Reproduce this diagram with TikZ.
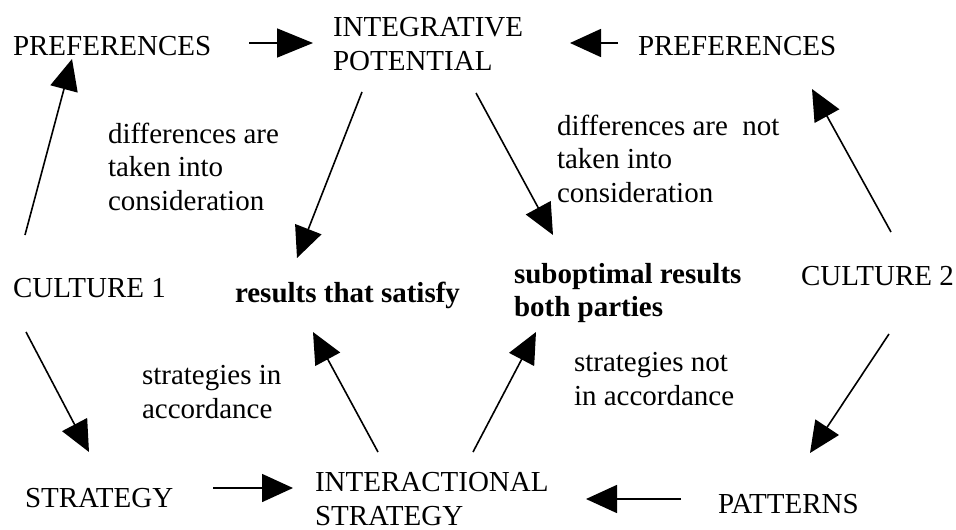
\documentclass[tikz,border=0pt]{standalone}
\usepackage{fontspec}
\setmainfont{Liberation Serif}
\usetikzlibrary{arrows.meta}
\begin{document}
\begin{tikzpicture}[x=1pt,y=-1pt,
  every node/.style={inner sep=0pt,outer sep=0pt,anchor=base west,align=left,font=\fontsize{29}{33.5}\selectfont\rmfamily},
  boldtext/.style={font=\fontsize{29}{32.5}\selectfont\rmfamily\bfseries},
  arr/.style={line width=1.6pt,-{Triangle[length=31pt,width=28pt]}}]
\useasboundingbox (0,0) rectangle (956,530);
% concepts (multi-line nodes are placed at the baseline of their last line)
\node (pref1) at (13,55) {PREFERENCES};
\node (ip) at (333,70) {INTEGRATIVE\\POTENTIAL};
\node (pref2) at (638,55) {PREFERENCES};
\node (c1) at (13,297) {CULTURE 1};
\node (rs) [boldtext] at (235,302) {results that satisfy};
\node (sub) [boldtext] at (514,316) {suboptimal results\\both parties};
\node (c2) at (801,285) {CULTURE 2};
\node (strat) at (25,507) {STRATEGY};
\node (inter) at (315,525) {INTERACTIONAL\\STRATEGY};
\node (pat) at (718,513) {PATTERNS};
% labels
\node (l1) at (108,210) {differences are\\taken into\\consideration};
\node (l2) at (557,202) {differences are\ \ not\\taken into\\consideration};
\node (l3) at (142,418) {strategies in\\accordance};
\node (l4) at (574,405) {strategies not\\in accordance};
% connectors
\draw[arr] ([shift={(12,-62)}]c1.base west) -- ([shift={(59,4)}]pref1.base west);
\draw[arr,-{Triangle[length=36pt,width=29pt]}] ([shift={(236,-12)}]pref1.base west) -- ([shift={(-20,-27)}]ip.base west);
\draw[arr] ([shift={(-20,-12)}]pref2.base west) -- ([shift={(237,-27)}]ip.base west);
\draw[arr] ([shift={(90,-53)}]c2.base west) -- ([shift={(174,34)}]pref2.base west);
\draw[arr] ([shift={(29,22)}]ip.base west) -- ([shift={(62,-44)}]rs.base west);
\draw[arr] ([shift={(143,23)}]ip.base west) -- ([shift={(39,-81)}]sub.base west);
\draw[arr] ([shift={(13,35)}]c1.base west) -- ([shift={(64,-55)}]strat.base west);
\draw[arr] ([shift={(188,-19)}]strat.base west) -- ([shift={(-22,-37)}]inter.base west);
\draw[arr] ([shift={(63,-73)}]inter.base west) -- ([shift={(78,30)}]rs.base west);
\draw[arr] ([shift={(158,-73)}]inter.base west) -- ([shift={(22,16)}]sub.base west);
\draw[arr] ([shift={(88,49)}]c2.base west) -- ([shift={(92,-60)}]pat.base west);
\draw[arr] ([shift={(-37,-14)}]pat.base west) -- ([shift={(271,-26)}]inter.base west);
\end{tikzpicture}
\end{document}
